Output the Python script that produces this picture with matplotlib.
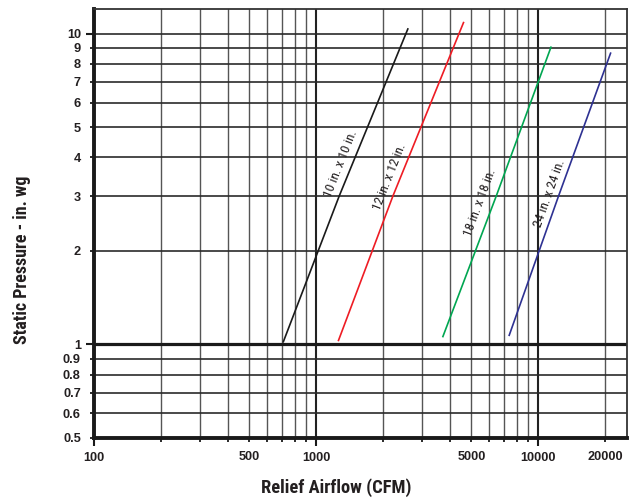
import matplotlib
matplotlib.use("Agg")
import matplotlib.pyplot as plt
import matplotlib.font_manager as fm
from matplotlib.ticker import FixedLocator, FixedFormatter

# ---- data ----
black_cfm = [712, 1270, 2588]
black_sp = [1.02, 3, 10.35]
red_cfm = [1261, 2216, 4609]
red_sp = [1.03, 3, 10.85]
green_cfm = [3722, 6469, 11408]
green_sp = [1.06, 3, 9.04]
blue_cfm = [7402, 12340, 21170]
blue_sp = [1.07, 3, 8.65]

series_labels = ["10 in. x 10 in.", "12 in. x 12 in.", "18 in. x 18 in.", "24 in. x 24 in."]
label_cfm = [1296, 2154, 5480, 11207]
label_sp = [3.81, 3.46, 2.85, 3.05]

x_major = [100, 1000, 10000]
x_major_labels = ["100", "1000", "10000"]
x_minor = [200, 300, 400, 500, 600, 700, 800, 900,
           2000, 3000, 4000, 5000, 6000, 7000, 8000, 9000, 20000]
x_minor_labels = ["", "", "", "500", "", "", "", "",
                  "", "", "", "5000", "", "", "", "", "20000"]
y_major = [1, 10]
y_major_labels = ["1", "10"]
y_minor = [0.5, 0.6, 0.7, 0.8, 0.9, 2, 3, 4, 5, 6, 7, 8, 9]
y_minor_labels = ["0.5", "0.6", "0.7", "0.8", "0.9", "2", "3", "4", "5", "6", "7", "8", "9"]

TXT = "#231f20"


def find_face(family, weight):
    best = None
    for f in fm.fontManager.ttflist:
        if f.name != family or f.style != "normal":
            continue
        w = f.weight if isinstance(f.weight, int) else fm.weight_dict.get(f.weight, 400)
        d = abs(w - weight)
        if best is None or d < best[0]:
            best = (d, f.fname)
    return best[1] if best else None


def props(size, weight):
    path = find_face("Roboto Condensed", weight)
    if path:
        return fm.FontProperties(fname=path, size=size)
    return fm.FontProperties(family=["Liberation Sans", "DejaVu Sans"],
                             weight=weight, size=size)


REG = ["Liberation Sans", "DejaVu Sans"]

fig = plt.figure(figsize=(6.41, 4.99), dpi=100)
ax = fig.add_axes([94/641, 1-438/499, (627-94)/641, (438-9)/499])
ax.set_xscale("log")
ax.set_yscale("log")
ax.set_xlim(100, 25100)
ax.set_ylim(0.5, 12.0)

ax.xaxis.set_major_locator(FixedLocator(x_major))
ax.xaxis.set_major_formatter(FixedFormatter(x_major_labels))
ax.xaxis.set_minor_locator(FixedLocator(x_minor))
ax.xaxis.set_minor_formatter(FixedFormatter(x_minor_labels))
ax.yaxis.set_major_locator(FixedLocator(y_major))
ax.yaxis.set_major_formatter(FixedFormatter(y_major_labels))
ax.yaxis.set_minor_locator(FixedLocator(y_minor))
ax.yaxis.set_minor_formatter(FixedFormatter(y_minor_labels))

# grid
ax.xaxis.grid(True, which="major", color="#222222", lw=1.5)
ax.xaxis.grid(True, which="minor", color="#555555", lw=1.0)
ax.yaxis.grid(True, which="major", color="#2a2a2a", lw=1.2)
ax.yaxis.grid(True, which="minor", color="#2a2a2a", lw=1.2)
ax.axhline(1, color="#1a1a1a", lw=2.3, zorder=1.5)
ax.set_axisbelow(True)

for s in ["left", "bottom"]:
    ax.spines[s].set_linewidth(2.8)
    ax.spines[s].set_color("#1a1a1a")
for s in ["top", "right"]:
    ax.spines[s].set_linewidth(1.3)
    ax.spines[s].set_color("#333333")

ax.tick_params(which="major", length=6, width=1.5, color="#1a1a1a")
ax.tick_params(which="minor", length=3, width=1.3, color="#1a1a1a")
ax.tick_params(axis="x", which="major", pad=4)
ax.tick_params(axis="x", which="minor", pad=6)
ax.tick_params(axis="y", which="major", pad=3)
ax.tick_params(axis="y", which="minor", pad=6.5)
for lab in ax.get_xticklabels(which="both") + ax.get_yticklabels(which="both"):
    lab.set_family(REG)
    lab.set_fontweight("bold")
    lab.set_fontsize(9.2)
    lab.set_color(TXT)

# curves
ax.plot(black_cfm, black_sp, color="#1a1a1a", lw=1.2, zorder=3)
ax.plot(red_cfm, red_sp, color="#ee1c24", lw=1.2, zorder=3)
ax.plot(green_cfm, green_sp, color="#00a651", lw=1.2, zorder=3)
ax.plot(blue_cfm, blue_sp, color="#2e3192", lw=1.2, zorder=3)

rots = [68.4, 68.5, 69.5, 70.3]
for t, xv, yv, r in zip(series_labels, label_cfm, label_sp, rots):
    ax.text(xv, yv, t, rotation=r, ha="center", va="center",
            fontproperties=props(9.6, 400), color=TXT,
            rotation_mode="anchor", zorder=4)

fig.text(336/641, 1-488/499, "Relief Airflow (CFM)", ha="center", va="center",
         fontproperties=props(13.3, 700), color=TXT)
fig.text(22/641, 1-259.5/499, "Static Pressure - in. wg", ha="center", va="center",
         rotation=90, fontproperties=props(13.0, 700), color=TXT)

fig.savefig("out.png", dpi=100, facecolor="white")
